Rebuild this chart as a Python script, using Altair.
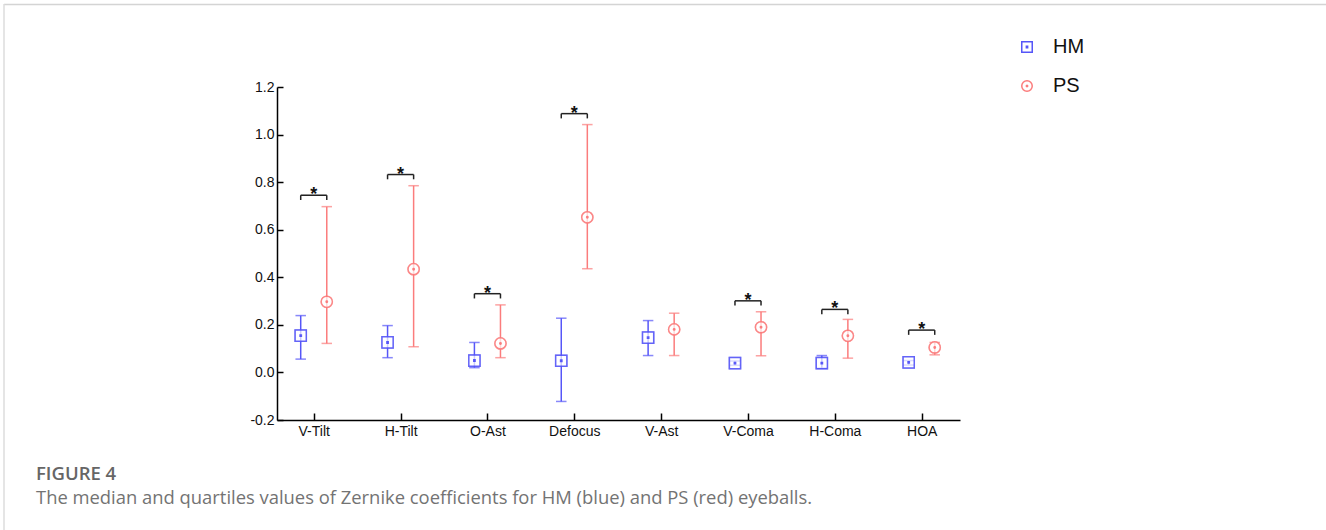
import altair as alt
import pandas as pd

# ---------------- data ----------------
categories = ["V-Tilt", "H-Tilt", "O-Ast", "Defocus", "V-Ast", "V-Coma", "H-Coma", "HOA"]
groups = ["HM", "PS"]

hm_median = [0.155, 0.126, 0.050, 0.049, 0.146, 0.039, 0.039, 0.042]
hm_q1 = [0.056, 0.062, 0.020, -0.122, 0.071, 0.030, 0.018, 0.031]
hm_q3 = [0.239, 0.197, 0.126, 0.228, 0.218, 0.048, 0.071, 0.050]

ps_median = [0.297, 0.434, 0.122, 0.652, 0.181, 0.190, 0.154, 0.105]
ps_q1 = [0.122, 0.108, 0.062, 0.436, 0.071, 0.070, 0.060, 0.074]
ps_q3 = [0.697, 0.785, 0.284, 1.042, 0.249, 0.255, 0.223, 0.126]

sig_categories = ["V-Tilt", "H-Tilt", "O-Ast", "Defocus", "V-Coma", "H-Coma", "HOA"]
sig_level = [0.745, 0.832, 0.331, 1.088, 0.301, 0.265, 0.178]

y_ticks = [-0.2, 0.0, 0.2, 0.4, 0.6, 0.8, 1.0, 1.2]

caption_title = "FIGURE 4"
caption_text = "The median and quartiles values of Zernike coefficients for HM (blue) and PS (red) eyeballs."

# ---------------- tables ----------------
df = pd.concat([
    pd.DataFrame({"cat": categories, "group": "HM", "med": hm_median, "lo": hm_q1, "hi": hm_q3}),
    pd.DataFrame({"cat": categories, "group": "PS", "med": ps_median, "lo": ps_q1, "hi": ps_q3}),
], ignore_index=True)
sig = pd.DataFrame({"cat": sig_categories, "level": sig_level})

W, H = 683, 333
LEFT, TOP = 277, 87
OFF = 0.15
BLUE, RED = "#5656f8", "#fb7c7c"
cat_arr = "[" + ",".join(f"'{c}'" for c in categories) + "]"
idx_expr = f"indexof({cat_arr}, datum.cat)"

xscale = alt.Scale(domain=[-0.423, 7.441], nice=False, zero=False)
yscale = alt.Scale(domain=[-0.2, 1.2], nice=False, zero=False)
color_scale = alt.Scale(domain=groups, range=[BLUE, RED])
square_path = "M-1,-1L1,-1L1,1L-1,1Z M-0.12,-0.12L0.12,-0.12L0.12,0.12L-0.12,0.12Z"
circle_path = ("M-1,0A1,1,0,1,0,1,0A1,1,0,1,0,-1,0Z "
               "M-0.13,0A0.13,0.13,0,1,0,0.13,0A0.13,0.13,0,1,0,-0.13,0Z")
shape_scale = alt.Scale(domain=groups, range=[square_path, circle_path])

legend = alt.Legend(
    orient="none", legendX=740, legendY=-50, title=None, labelFontSize=20,
    labelFont="Liberation Sans", labelColor="#111", symbolSize=110, symbolStrokeWidth=1.5,
    symbolFillColor="white", symbolOpacity=1, rowPadding=19, labelOffset=16, padding=0)

main_x_axis = alt.Axis(values=list(range(len(categories))), labelExpr=cat_arr + "[datum.value]",
                       tickSize=0, labelPadding=4, domainColor="black", domainWidth=1.5,
                       labelFont="Liberation Sans", labelFontSize=14, labelColor="#111",
                       grid=False, title=None)
main_y_axis = alt.Axis(values=y_ticks,
                       labelExpr="(datum.value < -0.001 ? '-' : '') + format(abs(datum.value), '.1f')",
                       tickSize=0, labelPadding=3,
                       domainColor="black", domainWidth=1.5, labelFont="Liberation Sans",
                       labelFontSize=14, labelColor="#111", grid=False, title=None)

base = alt.Chart(df).transform_calculate(
    xpos=f"{idx_expr} + (datum.group == 'HM' ? {-OFF} : {OFF})"
)

points = base.mark_point(filled=False, fill="white", strokeWidth=1.5, size=125).encode(
    x=alt.X("xpos:Q", scale=xscale, axis=None),
    y=alt.Y("med:Q", scale=yscale, axis=None),
    stroke=alt.Stroke("group:N", scale=color_scale, legend=legend),
    shape=alt.Shape("group:N", scale=shape_scale, legend=legend),
)

bars = base.mark_rule(strokeWidth=1.5).encode(
    x=alt.X("xpos:Q", scale=xscale, axis=main_x_axis),
    y=alt.Y("lo:Q", scale=yscale, axis=main_y_axis),
    y2="hi:Q",
    stroke=alt.Stroke("group:N", scale=color_scale, legend=legend),
)

caps = base.transform_fold(["lo", "hi"], as_=["k", "v"]).mark_tick(
    orient="horizontal", size=9, thickness=0.01, filled=False, strokeWidth=1.5
).encode(
    x=alt.X("xpos:Q", scale=xscale, axis=None),
    y=alt.Y("v:Q", scale=yscale, axis=None),
    stroke=alt.Stroke("group:N", scale=color_scale, legend=legend),
)

# inner-pointing ticks via mirrored axes
inner = base.mark_point(opacity=0).encode(
    x=alt.X("xpos:Q", scale=xscale, axis=alt.Axis(
        orient="top", offset=-H, values=list(range(len(categories))), labels=False,
        domain=False, tickSize=7, tickWidth=1.5, tickColor="black", grid=False, title=None)),
    y=alt.Y("med:Q", scale=yscale, axis=alt.Axis(
        orient="right", offset=-W, values=y_ticks, labels=False, domain=False,
        tickSize=6, tickWidth=1.5, tickColor="black", grid=False, title=None)),
)

sbase = alt.Chart(sig).transform_calculate(
    xc=idx_expr, x1=f"{idx_expr} - {OFF}", x2=f"{idx_expr} + {OFF}", leg="datum.level - 0.02"
)
bracket = sbase.mark_rule(strokeWidth=1.5, color="#222").encode(
    x=alt.X("x1:Q", scale=xscale, axis=None),
    x2="x2:Q",
    y=alt.Y("level:Q", scale=yscale, axis=None),
)
legs = sbase.transform_fold(["x1", "x2"], as_=["k", "lx"]).mark_rule(
    strokeWidth=1.5, color="#222").encode(
    x=alt.X("lx:Q", scale=xscale, axis=None),
    y=alt.Y("level:Q", scale=yscale, axis=None),
    y2="leg:Q",
)
stars = sbase.mark_text(text="*", fontSize=18, fontWeight="bold", font="Liberation Sans",
                        color="#111", baseline="alphabetic", dy=5).encode(
    x=alt.X("xc:Q", scale=xscale, axis=None),
    y=alt.Y("level:Q", scale=yscale, axis=None),
)

one = alt.Chart(pd.DataFrame({"a": [0]}))
frame_top = one.mark_rule(color="#d4d4d4", strokeWidth=1.5).encode(
    x=alt.value(4 - LEFT), x2=alt.value(1326 - LEFT), y=alt.value(4.5 - TOP))
frame_left = one.mark_rule(color="#dcdcdc", strokeWidth=1.5).encode(
    x=alt.value(4 - LEFT), y=alt.value(4 - TOP), y2=alt.value(530 - TOP))
cap1 = one.mark_text(text=caption_title, font="Open Sans", fontSize=18.5, fontWeight=600,
                     color="#666", align="left", baseline="alphabetic").encode(
    x=alt.value(36 - LEFT), y=alt.value(480 - TOP))
cap2 = one.mark_text(text=caption_text, font="Open Sans", fontSize=18.4, color="#737373",
                     align="left", baseline="alphabetic").encode(
    x=alt.value(36 - LEFT), y=alt.value(504 - TOP))

# points appear first (legend style taken from them) and again on top of the error bars
chart = alt.layer(
    points, bars, caps, points, inner, bracket, legs, stars, frame_top, frame_left, cap1, cap2
).resolve_axis(x="independent", y="independent").properties(
    width=W, height=H,
    autosize=alt.AutoSizeParams(type="none"),
    padding={"left": LEFT, "top": TOP, "right": 1326 - LEFT - W, "bottom": 530 - TOP - H},
    background="white",
).configure_view(stroke=None)

chart.save("out.html", embed_options={"renderer": "svg", "actions": False})
